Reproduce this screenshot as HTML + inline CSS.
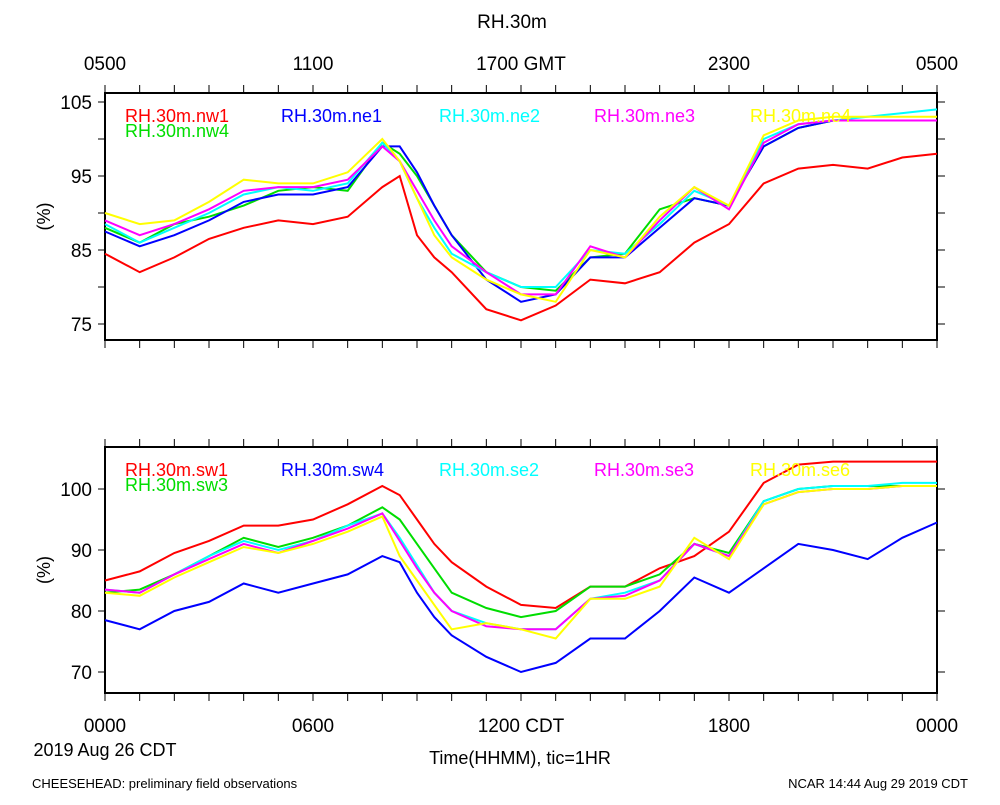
<!DOCTYPE html>
<html><head><meta charset="utf-8"><style>
body{margin:0;background:#fff;}
svg text{font-family:"Liberation Sans",sans-serif;}
</style></head><body>
<svg id="chart" width="1000" height="800" xmlns="http://www.w3.org/2000/svg">
<rect width="1000" height="800" fill="#fff"/>
<text x="512" y="28" font-size="19" text-anchor="middle">RH.30m</text>
<g id="top"></g>
<g id="bot"></g>
<text x="105" y="732" font-size="19" text-anchor="middle">0000</text>
<text x="313" y="732" font-size="19" text-anchor="middle">0600</text>
<text x="521" y="732" font-size="19" text-anchor="middle">1200 CDT</text>
<text x="729" y="732" font-size="19" text-anchor="middle">1800</text>
<text x="937" y="732" font-size="19" text-anchor="middle">0000</text>
<text x="105" y="756" font-size="18" text-anchor="middle">2019 Aug 26 CDT</text>
<text x="520" y="764" font-size="18" text-anchor="middle">Time(HHMM), tic=1HR</text>
<text x="105" y="70" font-size="19" text-anchor="middle">0500</text>
<text x="313" y="70" font-size="19" text-anchor="middle">1100</text>
<text x="521" y="70" font-size="19" text-anchor="middle">1700 GMT</text>
<text x="729" y="70" font-size="19" text-anchor="middle">2300</text>
<text x="937" y="70" font-size="19" text-anchor="middle">0500</text>
<text x="32" y="788" font-size="13">CHEESEHEAD: preliminary field observations</text>
<text x="968" y="788" font-size="13" text-anchor="end">NCAR 14:44 Aug 29 2019 CDT</text>
</svg>
<script>
const hours=[0,1,2,3,4,5,6,7,8,8.5,9,9.5,10,11,12,13,14,15,16,17,18,19,20,21,22,23,24];
const topNames=["RH.30m.nw1","RH.30m.nw4","RH.30m.ne1","RH.30m.ne2","RH.30m.ne3","RH.30m.ne4"];
const nw1=[84.5,82,84,86.5,88,89,88.5,89.5,93.5,95,87,84,82,77,75.5,77.5,81,80.5,82,86,88.5,94,96,96.5,96,97.5,98];
const nw4=[88,86,88.5,89.5,91,93,93.5,93,99.5,98,95,91,87,82,80,79.5,84,84.5,90.5,92,91,99,101.5,102.5,102.5,102.5,102.5];
const ne1=[87.5,85.5,87,89,91.5,92.5,92.5,93.5,99,99,95.5,91,87,81,78,79,84,84,88,92,91,99,101.5,102.5,102.5,102.5,102.5];
const ne2=[88.5,86,88,90,92.5,93.5,93,94,99.5,97,92,88,84.5,82,80,80,85,84.5,88.5,93,91,100,102,102.5,103,103.5,104];
const ne3=[89,87,88.5,90.5,93,93.5,93.5,94.5,99,97,93,89,85.5,82,79,79,85.5,84,89,93.5,90.5,99.5,102,102.5,102.5,102.5,102.5];
const ne4=[90,88.5,89,91.5,94.5,94,94,95.5,100,97,92,87,84,81,79,78,85,84,89.5,93.5,91,100.5,102.5,103,103,103,103];
const botNames=["RH.30m.sw1","RH.30m.sw3","RH.30m.sw4","RH.30m.se2","RH.30m.se3","RH.30m.se6"];
const sw1=[85,86.5,89.5,91.5,94,94,95,97.5,100.5,99,95,91,88,84,81,80.5,84,84,87,89,93,101,104,104.5,104.5,104.5,104.5];
const sw3=[83,83.5,86,89,92,90.5,92,94,97,95,91,87,83,80.5,79,80,84,84,86,91,89.5,98,100,100.5,100.5,100.5,100.5];
const sw4=[78.5,77,80,81.5,84.5,83,84.5,86,89,88,83,79,76,72.5,70,71.5,75.5,75.5,80,85.5,83,87,91,90,88.5,92,94.5];
const se2=[83.5,83,86,89,91.5,90,91.5,94,96,92,87.5,83,80,78,77,77,82,83,85,91,89,98,100,100.5,100.5,101,101];
const se3=[83.5,83,86,88.5,91,89.5,91.5,93.5,96,91.5,87,83,80,77.5,77,77,82,82.5,85,91,89,97.5,99.5,100,100,100.5,100.5];
const se6=[83,82.5,85.5,88,90.5,89.5,91,93,95.5,89,85,81,77,78,77,75.5,82,82,84,92,88.5,97.5,99.5,100,100,100.5,100.5];
const topTicks=[75,80,85,90,95,100,105];
const topTickLabels=["75","","85","","95","","105"];
const botTicks=[70,80,90,100];
const botTickLabels=["70","80","90","100"];
const colors=["#ff0000","#00dd00","#0000ff","#00ffff","#ff00ff","#ffff00"];
const NS="http://www.w3.org/2000/svg";
const xs=h=>105+h*(937-105)/24;
function mk(tag,attrs,parent){const e=document.createElementNS(NS,tag);for(const k in attrs)e.setAttribute(k,attrs[k]);parent.appendChild(e);return e;}
function panel(g,top,bottom,yScale,ticks,labels,series,names,legendY){
  const bx=mk('rect',{x:105,y:top,width:832,height:bottom-top,fill:'none',stroke:'#000','stroke-width':2},g);
  
  
  for(let h=0;h<=24;h++){
    const t1=mk('line',{x1:xs(h),x2:xs(h),y1:top,y2:top-8,stroke:'#000','stroke-width':1},g);
    
    
    const t2=mk('line',{x1:xs(h),x2:xs(h),y1:bottom,y2:bottom+8,stroke:'#000','stroke-width':1},g);
    
    
  }
  ticks.forEach((v,i)=>{
    const y=yScale(v);
    const l=mk('line',{x1:98,x2:105,y1:y,y2:y,stroke:'#000'},g);
    
    
    const r=mk('line',{x1:937,x2:945,y1:y,y2:y,stroke:'#000'},g);
    
    
    if(labels[i]){const t=mk('text',{x:92,y:y+7,'font-size':19,'text-anchor':'end'},g);t.textContent=labels[i];
    
    }
  });
  const yt=mk('text',{x:50,y:(top+bottom)/2,'font-size':18,'text-anchor':'middle',transform:`rotate(-90 50 ${(top+bottom)/2})`},g);
  yt.textContent='(%)';
  
  
  series.forEach((s,i)=>{
    const p=mk('polyline',{points:s.map((v,j)=>xs(hours[j]).toFixed(1)+','+yScale(v).toFixed(1)).join(' '),fill:'none',stroke:colors[i],'stroke-width':2},g);
    
    
  });
  const lx=[125,125,281,439,594,750];
  const ly=[legendY,legendY+15,legendY,legendY,legendY,legendY];
  names.forEach((n,i)=>{
    const t=mk('text',{x:lx[i],y:ly[i],'font-size':18,fill:colors[i]},g);t.textContent=n;
    
    
  });
}
const yTop=v=>324-(v-75)*(222/30);
const yBot=v=>672-(v-70)*(183/30);
panel(document.getElementById('top'),93,340,yTop,topTicks,topTickLabels,[nw1,nw4,ne1,ne2,ne3,ne4],topNames,122);
panel(document.getElementById('bot'),447,693,yBot,botTicks,botTickLabels,[sw1,sw3,sw4,se2,se3,se6],botNames,476);
</script>
</body></html>
